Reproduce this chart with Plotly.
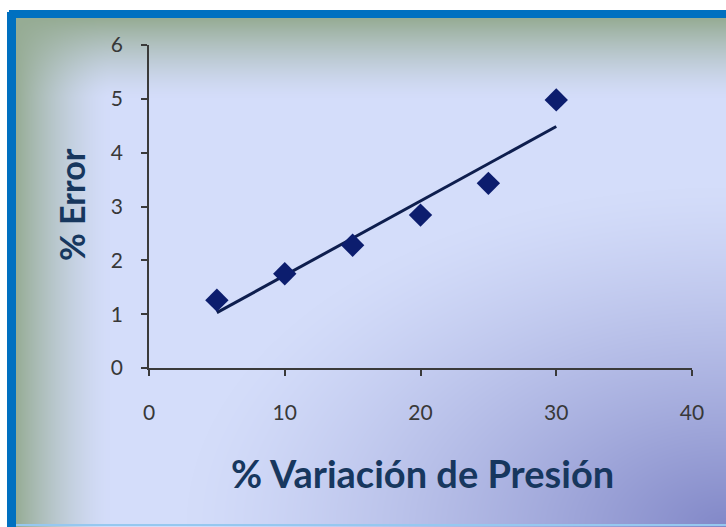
import base64
import struct
import zlib

import numpy as np
import plotly.graph_objects as go

# Measured data: pressure variation (%) vs. error (%)
variacion_presion = [5, 10, 15, 20, 25, 30]
error_pct = [1.26, 1.75, 2.28, 2.84, 3.43, 4.98]

x_ticks = [0, 10, 20, 30, 40]
y_ticks = [0, 1, 2, 3, 4, 5, 6]

# Linear trend line over the measured range
slope, intercept = np.polyfit(variacion_presion, error_pct, 1)
trend_x = [min(variacion_presion), max(variacion_presion)]
trend_y = [slope * v + intercept for v in trend_x]

W, H = 726, 527
L, R, T, B = 149, 34, 45, 159
NAVY = "#17375E"


def make_png(arr):
    h, w, _ = arr.shape
    raw = b"".join(b"\x00" + arr[i].tobytes() for i in range(h))

    def chunk(tag, data):
        c = struct.pack(">I", len(data)) + tag + data
        return c + struct.pack(">I", zlib.crc32(tag + data) & 0xFFFFFFFF)

    return (b"\x89PNG\r\n\x1a\n"
            + chunk(b"IHDR", struct.pack(">IIBBBBB", w, h, 8, 2, 0, 0, 0))
            + chunk(b"IDAT", zlib.compress(raw, 9))
            + chunk(b"IEND", b""))


# Gradient fill for the chart area with a blue frame
yy, xx = np.mgrid[0:H, 0:W].astype(float)
lavender = np.array([212, 221, 250], float)
green = np.array([150, 172, 148], float)
dark = np.array([130, 136, 200], float)

img = np.empty((H, W, 3), float)
img[:] = lavender
d = np.sqrt(((W - xx) / 540) ** 2 + ((H - yy) / 340) ** 2)
w_br = np.clip(1 - d, 0, 1) ** 1.25
img = img * (1 - w_br[..., None]) + dark * w_br[..., None]
w_top = np.clip(1 - (yy - 18) / 80, 0, 1) ** 1.4
img = img * (1 - w_top[..., None]) + green * w_top[..., None]
w_left = np.clip(1 - (xx - 15) / 95, 0, 1) ** 1.5
img = img * (1 - w_left[..., None]) + green * w_left[..., None]

blue = np.array([0, 112, 192], float)
img[10:18, 7:] = blue
img[10:, 7:16] = blue
img[524:526, 16:] = np.array([150, 200, 240], float)
img[:10, :] = 255
img[:, :7] = 255
img[10:12, 7:9] = 255
bg = np.clip(img, 0, 255).astype(np.uint8)
bg_uri = "data:image/png;base64," + base64.b64encode(make_png(bg)).decode()

pw, ph = W - L - R, H - T - B

fig = go.Figure()
fig.add_trace(go.Scatter(
    x=trend_x, y=trend_y, mode="lines",
    line=dict(color="#0E1E4E", width=3),
    hoverinfo="skip", showlegend=False,
))
fig.add_trace(go.Scatter(
    x=variacion_presion, y=error_pct, mode="markers",
    marker=dict(symbol="diamond", size=18, color="#0C1D6E"),
    showlegend=False,
))

axis_common = dict(
    showgrid=False, zeroline=False, showline=True,
    linecolor="#3A3A3A", linewidth=1.5,
    ticks="outside", ticklen=6, tickwidth=1.5, tickcolor="#3A3A3A",
    tickfont=dict(family="Lato", size=21, color="#383838"),
)

fig.update_layout(
    width=W, height=H,
    margin=dict(l=L, r=R, t=T, b=B),
    paper_bgcolor="rgba(0,0,0,0)",
    plot_bgcolor="rgba(0,0,0,0)",
    xaxis=dict(range=[0, 40], tickvals=x_ticks, ticklabelstandoff=19, **axis_common),
    yaxis=dict(range=[0, 6], tickvals=y_ticks, ticklabelstandoff=14, **axis_common),
    images=[dict(
        source=bg_uri, xref="paper", yref="paper",
        x=-L / pw, y=1 + T / ph, sizex=W / pw, sizey=H / ph,
        xanchor="left", yanchor="top", sizing="stretch", layer="below",
    )],
    annotations=[
        dict(text="<b>% Variación de Presión</b>", xref="paper", yref="paper",
             x=(422 - L) / pw, y=-(473 - T - ph) / ph, showarrow=False,
             xanchor="center", yanchor="middle",
             font=dict(family="Lato", size=38, color=NAVY)),
        dict(text="<b>% Error</b>", xref="paper", yref="paper",
             x=(72 - L) / pw, y=1 - (205 - T) / ph, showarrow=False,
             xanchor="center", yanchor="middle", textangle=-90,
             font=dict(family="Lato", size=34, color=NAVY)),
    ],
)

fig.write_html("out.html")
